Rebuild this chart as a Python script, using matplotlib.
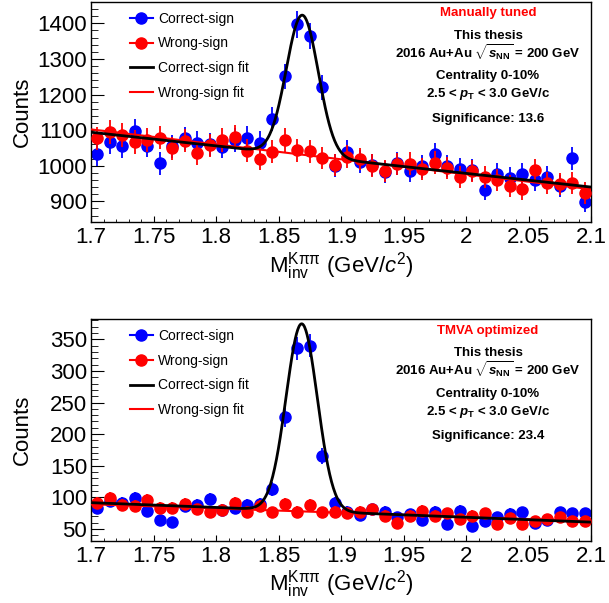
import numpy as np
import matplotlib
matplotlib.use("Agg")
import matplotlib.pyplot as plt
from matplotlib.lines import Line2D
from matplotlib.ticker import MultipleLocator, FuncFormatter

plt.rcParams['font.family'] = ['Liberation Sans', 'DejaVu Sans']
plt.rcParams['mathtext.fontset'] = 'custom'
plt.rcParams['mathtext.rm'] = 'Liberation Sans'
plt.rcParams['mathtext.it'] = 'Liberation Sans:italic'
plt.rcParams['mathtext.bf'] = 'Liberation Sans:bold'
plt.rcParams['mathtext.bfit'] = 'Liberation Sans:italic:bold'

# bin centres of the K pi pi invariant mass histograms (GeV/c^2)
mass = np.round(np.arange(1.705, 2.1, 0.01), 3)

# --- manually tuned cuts (top panel)
tuned_correct = [1032, 1067, 1055, 1098, 1056, 1007, 1055, 1077, 1065, 1060,
                 1053, 1072, 1079, 1065, 1130, 1251, 1397, 1364, 1220, 1000,
                 1039, 1011, 1002, 983, 1007, 986, 998, 1032, 999, 990,
                 988, 933, 977, 965, 977, 960, 967, 943, 1021, 899]
tuned_wrong = [1077, 1094, 1086, 1067, 1072, 1079, 1049, 1070, 1035, 1058,
               1072, 1081, 1042, 1019, 1039, 1072, 1044, 1041, 1022, 1002,
               1025, 1019, 1000, 985, 1005, 1006, 990, 1009, 993, 969,
               986, 969, 960, 943, 935, 988, 951, 949, 951, 924]
# fit results: [p0, p1, amplitude, mean, sigma] for pol1 + gaus
tuned_fit_correct = [1094, -385, 394, 1.8689, 0.0128]
tuned_fit_wrong = [1102, -420]
tuned_signif = "13.6"

# --- TMVA optimized cuts (bottom panel)
tmva_correct = [83, 94, 91, 99, 79, 64, 61, 86, 88, 97,
                80, 83, 88, 89, 113, 227, 336, 340, 165, 91,
                77, 72, 81, 77, 69, 73, 64, 77, 58, 79,
                54, 63, 69, 74, 76, 60, 64, 76, 75, 75]
tmva_wrong = [91, 99, 88, 86, 95, 83, 83, 90, 81, 76,
              80, 91, 76, 86, 76, 89, 77, 88, 76, 77,
              75, 77, 81, 71, 60, 71, 79, 71, 75, 65,
              71, 75, 58, 67, 58, 63, 65, 69, 63, 62]
tmva_fit_correct = [91.5, -77, 296, 1.8684, 0.0125]
tmva_fit_wrong = [89, -67]
tmva_signif = "23.4"


def pol1(x, p):
    return p[0] + p[1] * (x - 1.7)


def pol1_gaus(x, p):
    return pol1(x, p) + p[2] * np.exp(-0.5 * ((x - p[3]) / p[4]) ** 2)


def draw_panel(ax, correct, wrong, fit_c, fit_w, tag, signif, ylim, ymaj, ymin):
    correct = np.array(correct, float)
    wrong = np.array(wrong, float)
    ax.errorbar(mass, correct, yerr=np.sqrt(correct), fmt='o', color='blue',
                ms=8, elinewidth=1.3, capsize=0, zorder=2)
    ax.errorbar(mass, wrong, yerr=np.sqrt(wrong), fmt='o', color='red',
                ms=8, elinewidth=1.3, capsize=0, zorder=3)
    xf = np.linspace(1.7, 2.1, 800)
    ax.plot(xf, pol1(xf, fit_w), color='red', lw=1.5, zorder=4)
    ax.plot(xf, pol1_gaus(xf, fit_c), color='black', lw=2, zorder=5)

    ax.set_xlim(1.7, 2.1)
    ax.set_ylim(*ylim)
    ax.xaxis.set_major_locator(MultipleLocator(0.05))
    ax.xaxis.set_minor_locator(MultipleLocator(0.01))
    ax.yaxis.set_major_locator(MultipleLocator(ymaj))
    ax.yaxis.set_minor_locator(MultipleLocator(ymin))
    ax.xaxis.set_major_formatter(FuncFormatter(lambda v, _: f"{v:g}"))
    ax.tick_params(direction='in', which='both', top=False, right=False, labelsize=16)
    ax.tick_params(axis='y', which='major', length=9.5, pad=3)
    ax.tick_params(axis='y', which='minor', length=4.7)
    ax.tick_params(axis='x', which='major', length=4.5, pad=4)
    ax.tick_params(axis='x', which='minor', length=2.2)
    for s in ax.spines.values():
        s.set_linewidth(1.0)

    ax.set_xlabel(r"M$_{\mathrm{inv}}^{\mathrm{K\pi\pi}}$ (GeV/$c^{2}$)", fontsize=16, labelpad=1)
    ax.set_ylabel("Counts", fontsize=16)
    ax.yaxis.set_label_coords(-0.116, 0.5)

    handles = [
        Line2D([], [], color='blue', marker='o', ms=8, lw=1.5),
        Line2D([], [], color='red', marker='o', ms=8, lw=1.5),
        Line2D([], [], color='black', lw=2),
        Line2D([], [], color='red', lw=1.5),
    ]
    labels = ["Correct-sign", "Wrong-sign", "Correct-sign fit", "Wrong-sign fit"]
    ax.legend(handles, labels, loc='upper left', bbox_to_anchor=(0.0776, 0.955),
              frameon=False, fontsize=10, handlelength=1.65, handletextpad=0.35,
              labelspacing=0.76, borderpad=0, borderaxespad=0)

    h = ax.get_position().height * 603
    lines = [
        (tag, 'red', 14.2),
        ("This thesis", 'black', 36.7),
        (r"2016 Au+Au $\sqrt{\mathbfit{s}_{\mathbf{NN}}}$ = 200 GeV", 'black', 56.5),
        ("Centrality 0-10%", 'black', 77.2),
        (r"2.5 < $\mathbfit{p}_{\mathbf{T}}$ < 3.0 GeV/c", 'black', 95.4),
        ("Significance: " + signif, 'black', 119.7),
    ]
    for txt, col, d in lines:
        ax.text(0.7936, 1 - d / h, txt, transform=ax.transAxes, ha='center',
                va='baseline', fontsize=9.5, fontweight='bold', color=col)


fig = plt.figure(figsize=(6.09, 6.03), dpi=100)
ax1 = fig.add_axes([0.1498, 0.6323, 0.821, 0.3643])
ax2 = fig.add_axes([0.1498, 0.1036, 0.821, 0.3668])

draw_panel(ax1, tuned_correct, tuned_wrong, tuned_fit_correct, tuned_fit_wrong,
           "Manually tuned", tuned_signif, (842.7, 1459.8), 100, 20)
draw_panel(ax2, tmva_correct, tmva_wrong, tmva_fit_correct, tmva_fit_wrong,
           "TMVA optimized", tmva_signif, (31.6, 381.6), 50, 10)

fig.savefig("out.png", dpi=100)
